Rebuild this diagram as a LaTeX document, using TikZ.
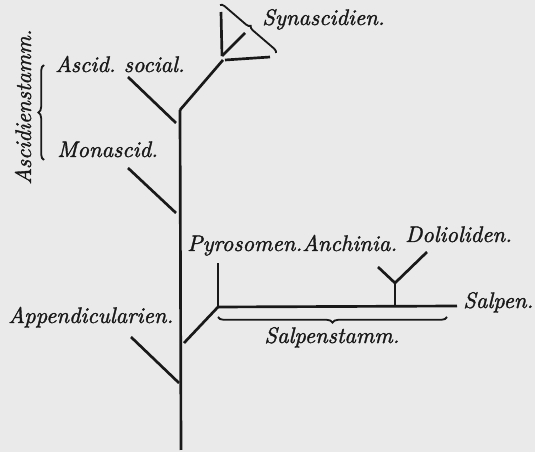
\documentclass[tikz,border=0pt]{standalone}
\usepackage{fontspec}
\usepackage{tikz}
\usepackage{xcolor}
\usetikzlibrary{decorations.pathreplacing}
\newfontfamily\schrift{lmroman10-italic.otf}[FakeBold=1.5]
\definecolor{papier}{RGB}{234,234,234}
\definecolor{tinte}{RGB}{25,25,25}

\begin{document}
\begin{tikzpicture}[x=0.025cm, y=-0.025cm,
    ast/.style={line width=1.9pt, tinte},
    lbl/.style={font=\fontsize{16}{19}\schrift, text=tinte, inner sep=0pt},
    klammer/.style={decorate, decoration={brace, amplitude=#1}, line width=1.3pt, tinte}]
            \fill[papier] (0,0) rectangle (535,452);
            \useasboundingbox (0,0) rectangle (535,452);
            % Stammbaum der Tunicaten
            \coordinate (wurzel) at (181,450);
            \coordinate (gipfel) at (180,110);
            \coordinate (synfuss) at (223,60);
            \coordinate (synecke) at (220,5);
            \coordinate (synsenk) at (221,12);
            \coordinate (synsenkb) at (222,56);
            \coordinate (synspitze) at (276,53);
            \coordinate (synbodena) at (225,60);
            \coordinate (synbodenb) at (270,57);
            \coordinate (syninnen) at (245,33);
            \coordinate (salpfuss) at (184,343);
            \coordinate (salpknoten) at (218,307);
            \coordinate (salpende) at (457,306);
            \coordinate (pyrospitze) at (218,263);
            \coordinate (doliofuss) at (395,306);
            \coordinate (dolioknoten) at (395,283);
            \coordinate (doliolinks) at (378,267);
            \coordinate (doliorechts) at (427,252);

            % Seitenaeste links vom Stamm
            \foreach \n/\ax/\ay/\bx/\by in {social/128/77/176/123, monasc/128/168/176/213, append/131/337/179/383} {
                \coordinate (\n a) at (\ax,\ay);
                \coordinate (\n b) at (\bx,\by);
                \draw[ast] (\n a) -- (\n b);
            }

            \draw[ast] (wurzel) -- (gipfel);
            \draw[ast] (gipfel) -- (synfuss);
            \draw[ast] (synsenk) -- (synsenkb);
            \draw[ast] (synbodena) -- (synbodenb);
            \draw[ast] (synsenkb) -- (syninnen);
            \draw[klammer=3pt] (synecke) -- (synspitze);

            \draw[ast] (salpfuss) -- (salpknoten);
            \draw[ast] (salpknoten) -- (salpende);
            \draw[ast] (salpknoten) -- (pyrospitze);
            \draw[ast] (doliofuss) -- (dolioknoten);
            \draw[ast] (dolioknoten) -- (doliolinks);
            \draw[ast] (dolioknoten) -- (doliorechts);

            \draw[klammer=4pt] (44,160) -- (44,65);
            \draw[klammer=4pt] (447,317) -- (218,317);

            \node[lbl, anchor=base west] (synasc) at (262,25) {Synascidien.};
            \node[lbl, anchor=base west] (social) at (55,72) {Ascid.\ social.};
            \node[lbl, anchor=base west] (monasc) at (57,157) {Monascid.};
            \node[lbl, anchor=base, rotate=90] (ascst) at (31,107) {Ascidienstamm.};
            \node[lbl, anchor=base west] (pyros) at (187,251) {Pyrosomen.};
            \node[lbl, anchor=base west] (anchin) at (302,251) {Anchinia.};
            \node[lbl, anchor=base west] (dolio) at (405,242) {Dolioliden.};
            \node[lbl, anchor=base west] (salpen) at (463,308) {Salpen.};
            \node[lbl, anchor=base] (salpst) at (332,343) {Salpenstamm.};
            \node[lbl, anchor=base west] (append) at (8,323) {Appendicularien.};
        \end{tikzpicture}
\end{document}
